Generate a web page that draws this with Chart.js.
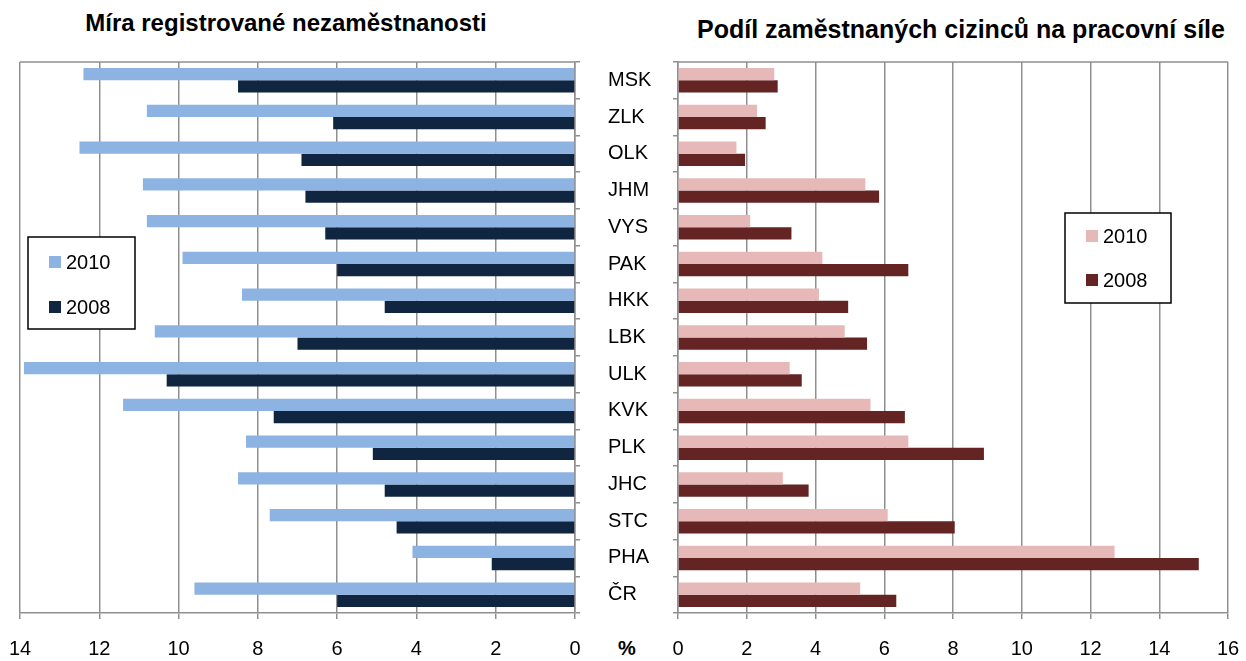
<!DOCTYPE html>
<html><head><meta charset="utf-8">
<script src="https://cdn.jsdelivr.net/npm/chart.js@4"></script>
<style>
html,body{margin:0;padding:0;background:#fff;width:1246px;height:661px;overflow:hidden;font-family:"Liberation Sans",Arial,sans-serif}
#c1{position:absolute;left:0;top:0}
#c2{position:absolute;left:670px;top:0}
.t{position:absolute;font-weight:bold;white-space:nowrap;transform:translate(-50%,-50%);color:#000}
</style></head><body>
<div class="t" id="t1" style="left:286px;top:23px;font-size:24px">Míra registrované nezaměstnanosti</div>
<div class="t" id="t2" style="left:961px;top:29px;font-size:25px">Podíl zaměstnaných cizinců na pracovní síle</div>
<div class="t" id="pct" style="left:627px;top:648px;font-size:20px">%</div>
<canvas id="c1" width="670" height="661"></canvas>
<canvas id="c2" width="576" height="661"></canvas>
<script>
const regions = ["MSK","ZLK","OLK","JHM","VYS","PAK","HKK","LBK","ULK","KVK","PLK","JHC","STC","PHA","ČR"];
const seriesNames = ["2010","2008"];
const unemployment2010 = [12.4,10.8,12.5,10.9,10.8,9.9,8.4,10.6,13.9,11.4,8.3,8.5,7.7,4.1,9.6];
const unemployment2008 = [8.5,6.1,6.9,6.8,6.3,6.0,4.8,7.0,10.3,7.6,5.1,4.8,4.5,2.1,6.0];
const foreigners2010 = [2.8,2.3,1.7,5.45,2.1,4.2,4.1,4.85,3.25,5.6,6.7,3.05,6.1,12.7,5.3];
const foreigners2008 = [2.9,2.55,1.95,5.85,3.3,6.7,4.95,5.5,3.6,6.6,8.9,3.8,8.05,15.15,6.35];
const leftTicksMax = 14;
const rightTicksMax = 16;

const FONT = '"Liberation Sans", Arial, sans-serif';
const GRID = '#8f8f8f';

const frame = {
  id: 'frame',
  beforeDatasetsDraw(chart, args, o) {
    const {left, right, top, bottom} = chart.chartArea;
    const ctx = chart.ctx;
    ctx.save();
    ctx.strokeStyle = GRID; ctx.lineWidth = 1.5;
    ctx.beginPath();
    ctx.moveTo(left, top); ctx.lineTo(right, top);
    ctx.stroke();
    ctx.restore();
  }
};

const boxLegend = {
  id: 'boxLegend',
  afterDraw(chart, args, o) {
    const ctx = chart.ctx;
    ctx.save();
    ctx.fillStyle = '#fff';
    ctx.fillRect(o.x, o.y, o.w, o.h);
    ctx.strokeStyle = '#000'; ctx.lineWidth = 1.5;
    ctx.strokeRect(o.x, o.y, o.w, o.h);
    ctx.font = '20px ' + FONT;
    ctx.textBaseline = 'middle';
    ctx.textAlign = 'left';
    chart.data.datasets.forEach((ds, i) => {
      const cy = o.itemY[i];
      ctx.fillStyle = ds.backgroundColor;
      ctx.fillRect(o.sx, cy - 6, 12, 12);
      ctx.fillStyle = '#000';
      ctx.fillText(ds.label, o.sx + 17, cy + 1);
    });
    ctx.restore();
  }
};

function noSidePad(s) { s.height = 48; s.paddingLeft = 0; s.paddingRight = 0; }

Chart.defaults.font.family = FONT;
Chart.defaults.color = '#000';

new Chart(document.getElementById('c1'), {
  type: 'bar',
  data: {
    labels: regions,
    datasets: [
      {label: seriesNames[0], data: unemployment2010, backgroundColor: '#8DB3E2'},
      {label: seriesNames[1], data: unemployment2008, backgroundColor: '#10253F'}
    ]
  },
  options: {
    indexAxis: 'y', responsive: false, animation: false,
    datasets: {bar: {categoryPercentage: 0.667, barPercentage: 1}},
    layout: {padding: {left: 20, top: 62, right: 0, bottom: 0}},
    plugins: {
      legend: {display: false}, tooltip: {enabled: false},
      boxLegend: {x: 28, y: 237, w: 107, h: 92, sx: 49, itemY: [262, 307]}
    },
    scales: {
      x: {
        reverse: true, min: 0, max: leftTicksMax,
        ticks: {stepSize: 2, padding: 18, font: {size: 20}, maxRotation: 0},
        grid: {color: GRID, lineWidth: 1.5, tickLength: 6},
        border: {color: GRID, width: 1.5},
        afterFit: noSidePad
      },
      y: {
        position: 'right',
        grid: {offset: true, drawOnChartArea: false, tickLength: 5, color: GRID, lineWidth: 1.5},
        border: {color: GRID, width: 1.5},
        ticks: {crossAlign: 'near', padding: 28, font: {size: 20}},
        afterFit(s) { s.width = 95; }
      }
    }
  },
  plugins: [frame, boxLegend]
});

new Chart(document.getElementById('c2'), {
  type: 'bar',
  data: {
    labels: regions,
    datasets: [
      {label: seriesNames[0], data: foreigners2010, backgroundColor: '#E6B9B8'},
      {label: seriesNames[1], data: foreigners2008, backgroundColor: '#632423'}
    ]
  },
  options: {
    indexAxis: 'y', responsive: false, animation: false,
    datasets: {bar: {categoryPercentage: 0.667, barPercentage: 1}},
    layout: {padding: {left: 0, top: 62, right: 18, bottom: 0}},
    plugins: {
      legend: {display: false}, tooltip: {enabled: false},
      boxLegend: {x: 395, y: 213, w: 106, h: 90, sx: 416, itemY: [236, 280]}
    },
    scales: {
      x: {
        min: 0, max: rightTicksMax,
        ticks: {stepSize: 2, padding: 18, font: {size: 20}, maxRotation: 0},
        grid: {color: GRID, lineWidth: 1.5, tickLength: 6},
        border: {color: GRID, width: 1.5},
        afterFit: noSidePad
      },
      y: {
        position: 'left',
        grid: {offset: true, drawOnChartArea: false, tickLength: 5, color: GRID, lineWidth: 1.5},
        border: {color: GRID, width: 1.5},
        ticks: {display: false},
        afterFit(s) { s.width = 8; }
      }
    }
  },
  plugins: [frame, boxLegend]
});
</script>
</body></html>
